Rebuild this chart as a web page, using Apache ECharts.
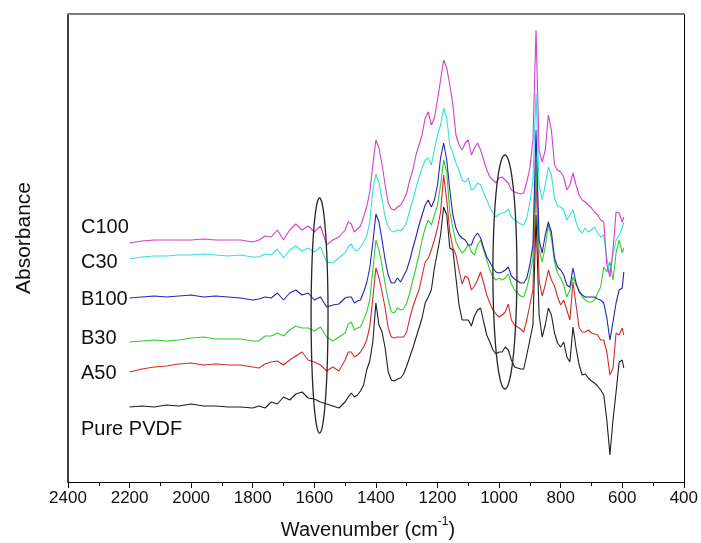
<!DOCTYPE html>
<html>
<head>
<meta charset="utf-8">
<script src="https://cdn.jsdelivr.net/npm/echarts@6/dist/echarts.min.js"></script>
<style>
  html, body { margin: 0; padding: 0; background: #fff; }
  #chart { width: 701px; height: 543px; }
</style>
</head>
<body>
<div id="chart"></div>
<script>
// FTIR spectra (absorbance, arbitrary offset units) sampled on a shared wavenumber grid
const wavenumbers = [2200,2160,2120,2080,2040,2000,1960,1920,1880,1840,
  1800,1780,1760,1740,1720,1700,1680,1660,1640,1620,1600,1580,1560,1540,1520,1500,
  1490,1480,1470,1460,1450,1440,1430,1420,1410,1400,1390,1380,1370,1360,1350,1340,1330,1320,1310,1300,
  1290,1280,1270,1260,1250,1240,1230,1220,1210,1200,1190,1180,1170,1160,1150,1140,1130,1120,1110,1100,
  1090,1080,1070,1060,1050,1040,1030,1020,1010,1000,990,980,970,960,950,940,930,920,910,900,
  890,880,870,860,850,840,830,820,810,800,790,780,770,760,750,740,730,720,710,700,
  690,680,670,660,650,640,630,620,610,600,595];

const purePVDF = [93,94,93,95,94,96,94,94,93,93,
  92,94,92,98,96,103,100,106,108,102,101,98,96,94,92,98,
  103,107,103,105,109,115,130,139,158,197,175,168,152,128,120,119,121,122,126,134,
  143,152,162,172,182,197,203,210,232,248,265,293,285,252,250,222,195,180,180,180,
  174,184,190,192,178,165,158,150,146,148,148,153,150,140,133,132,131,131,145,160,
  175,285,185,163,175,192,185,167,157,153,158,143,138,173,152,135,125,126,122,119,
  117,114,110,105,80,45,80,108,138,140,132];

const a50 = [128,131,133,134,136,137,135,136,135,135,
  133,132,136,138,139,135,140,144,148,140,138,135,129,133,129,140,
  148,148,143,145,148,153,160,173,202,232,222,208,192,172,163,162,163,163,163,168,
  182,193,202,210,224,238,242,250,260,272,288,325,300,268,252,245,230,216,224,222,
  210,214,220,228,217,205,197,190,186,183,185,188,196,180,175,173,171,168,180,195,
  210,325,220,204,215,230,220,214,203,195,200,190,180,218,195,172,168,168,170,167,
  166,165,160,160,148,125,132,167,165,172,165];

const b30 = [158,159,160,159,160,162,163,161,161,161,
  159,159,164,164,167,164,170,174,172,172,169,173,163,159,163,167,
  176,178,170,172,173,180,188,200,230,260,250,234,216,200,188,187,192,190,191,197,
  207,220,232,245,260,272,280,275,285,295,315,340,328,288,272,258,252,247,250,256,
  248,245,255,260,250,240,230,223,220,222,220,222,226,216,210,207,204,203,212,225,
  242,340,250,238,253,275,262,238,227,222,215,203,210,223,215,210,203,200,198,198,
  200,207,213,233,228,238,220,247,260,247,252];

const b100 = [202,203,204,203,204,205,203,204,203,202,
  200,201,203,202,207,200,207,210,205,207,200,203,193,195,196,202,
  203,203,197,199,200,208,217,232,257,286,278,260,240,225,217,217,222,218,224,230,
  240,252,263,275,285,295,300,293,300,315,342,357,340,310,285,272,265,262,260,255,
  255,263,267,262,252,243,238,232,228,227,228,230,233,224,221,219,217,217,222,235,
  255,370,260,247,265,278,268,242,233,230,225,215,213,232,217,208,205,203,203,203,
  203,201,200,197,182,160,178,197,210,212,228];

const c30 = [241,243,244,244,245,245,246,245,244,245,
  243,243,246,245,251,242,250,254,249,252,248,253,238,237,242,247,
  253,256,250,249,253,258,264,278,310,326,317,300,283,273,269,268,270,269,272,278,
  290,300,312,322,332,340,342,335,350,365,375,392,382,355,347,337,330,320,318,322,
  310,312,317,315,307,300,293,287,283,286,287,288,291,283,280,278,276,275,282,297,
  320,407,315,300,315,333,325,302,294,293,290,280,285,290,278,270,267,272,268,270,
  273,267,263,265,242,227,245,260,265,272,278];

const c100 = [257,259,260,260,260,260,261,260,260,260,
  258,260,264,263,270,260,270,276,270,274,268,274,255,260,263,270,
  278,276,268,271,274,283,293,308,335,360,352,335,315,297,291,290,293,295,300,307,
  320,330,345,355,365,382,388,375,382,400,420,440,432,415,395,365,355,350,357,360,
  345,352,357,350,340,330,323,320,317,322,323,320,317,310,308,307,306,307,318,332,
  360,470,350,338,350,385,370,335,330,328,323,310,315,327,315,305,300,298,295,292,
  288,285,280,278,235,223,250,288,287,278,283];

const seriesNames  = ['Pure PVDF', 'A50', 'B30', 'B100', 'C30', 'C100'];
const seriesValues = [purePVDF, a50, b30, b100, c30, c100];
const seriesColors = ['#1e1e1e', '#d02c2c', '#33cc33', '#2424b4', '#33e0e0', '#d040d0'];

// Highlighted bands: [centre wavenumber, band width, lower value, upper value]
const bandCentres = [1583, 981];
const bandWidths  = [55, 78];
const bandLows    = [67, 111];
const bandHighs   = [302, 345];

// Wavenumber axis range and tick step
const xMin = 400, xMax = 2400, xStep = 200;

const chart = echarts.init(document.getElementById('chart'), null, { renderer: 'canvas' });

const lineSeries = seriesNames.map((name, i) => ({
  name: name,
  type: 'line',
  xAxisIndex: 0,
  yAxisIndex: 0,
  data: wavenumbers.map((w, k) => [w, seriesValues[i][k]]),
  showSymbol: false,
  symbol: 'none',
  lineStyle: { color: seriesColors[i], width: 1.1 },
  itemStyle: { color: seriesColors[i] },
  z: 3 + i
}));

const bandSeries = {
  type: 'custom',
  xAxisIndex: 0,
  yAxisIndex: 0,
  z: 20,
  silent: true,
  data: bandCentres.map((c, i) => [c, bandWidths[i], bandLows[i], bandHighs[i]]),
  renderItem: function (params, api) {
    const c = api.value(0), w = api.value(1), lo = api.value(2), hi = api.value(3);
    const p1 = api.coord([c + w / 2, lo]);
    const p2 = api.coord([c - w / 2, hi]);
    const cx = (p1[0] + p2[0]) / 2, cy = (p1[1] + p2[1]) / 2;
    const rx = Math.abs(p2[0] - p1[0]) / 2, ry = Math.abs(p2[1] - p1[1]) / 2;
    const pts = [];
    for (let k = 0; k < 120; k++) {
      const t = k / 120 * Math.PI * 2;
      pts.push([cx + rx * Math.cos(t), cy + ry * Math.sin(t)]);
    }
    return {
      type: 'polygon',
      shape: { points: pts },
      style: { fill: 'none', stroke: '#262626', lineWidth: 1.3 }
    };
  }
};

const labelFont = '"Liberation Sans", Arial, sans-serif';
const seriesLabelTops = [419, 363, 328, 289, 252, 217];

const graphics = seriesNames.map((name, i) => ({
  type: 'text',
  left: 81,
  top: seriesLabelTops[i],
  silent: true,
  style: { text: name, font: '20px ' + labelFont, fill: '#111' }
}));

graphics.push({
  type: 'text',
  silent: true,
  x: 24, y: 238,
  rotation: Math.PI / 2,
  style: {
    text: 'Absorbance', font: '21px ' + labelFont, fill: '#111',
    align: 'center', verticalAlign: 'middle'
  }
});

graphics.push({
  type: 'text',
  silent: true,
  x: 368, y: 528,
  style: {
    text: '{b|Wavenumber (cm}{s|-1}{b|)}',
    align: 'center', verticalAlign: 'middle',
    rich: {
      b: { font: '20px ' + labelFont, fill: '#111', lineHeight: 24, verticalAlign: 'bottom' },
      s: { font: '12px ' + labelFont, fill: '#111', lineHeight: 12, verticalAlign: 'top' }
    }
  }
});

chart.setOption({
  animation: false,
  backgroundColor: '#fff',
  grid: { left: 68, right: 16, top: 14, bottom: 61, containLabel: false },
  xAxis: [{
    type: 'value',
    inverse: true,
    min: xMin, max: xMax, interval: xStep,
    position: 'bottom',
    axisLine: { show: true, onZero: false, lineStyle: { color: '#000', width: 1 } },
    axisTick: { show: true, inside: false, length: 6, lineStyle: { color: '#000' } },
    minorTick: { show: true, splitNumber: 2, length: 4, lineStyle: { color: '#000' } },
    axisLabel: {
      color: '#111', fontSize: 17, fontFamily: labelFont, margin: 8,
      formatter: function (v) { return String(v); }
    },
    splitLine: { show: false },
    minorSplitLine: { show: false }
  }, {
    type: 'value',
    inverse: true,
    min: xMin, max: xMax,
    position: 'top',
    axisLine: { show: true, onZero: false, lineStyle: { color: '#7d7d7d', width: 2 } },
    axisTick: { show: false },
    axisLabel: { show: false },
    splitLine: { show: false }
  }],
  yAxis: [{
    type: 'value',
    min: 18, max: 486,
    position: 'left',
    axisLine: { show: true, onZero: false, lineStyle: { color: '#000', width: 1.5 } },
    axisTick: { show: false },
    axisLabel: { show: false },
    splitLine: { show: false }
  }, {
    type: 'value',
    min: 18, max: 486,
    position: 'right',
    axisLine: { show: true, onZero: false, lineStyle: { color: '#000', width: 1 } },
    axisTick: { show: false },
    axisLabel: { show: false },
    splitLine: { show: false }
  }],
  series: lineSeries.concat([bandSeries]),
  graphic: graphics
});
</script>
</body>
</html>
